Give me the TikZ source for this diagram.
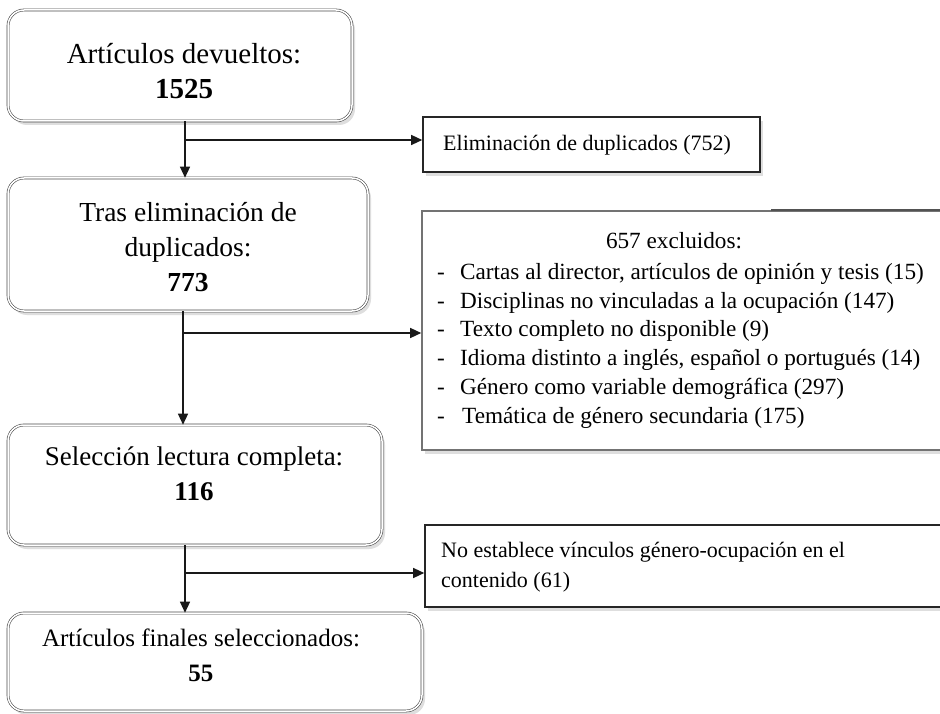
\documentclass[tikz,border=0pt]{standalone}
\usepackage{fontspec}
\setmainfont{Liberation Serif}
\usetikzlibrary{shadows,arrows.meta,calc}
\begin{document}
\begin{tikzpicture}[x=1pt,y=-1pt,
  mainbox/.style={draw=black!70, line width=0.6pt, double=white, double distance=1.5pt,
    rounded corners=16pt, fill=white,
    drop shadow={shadow xshift=3pt, shadow yshift=-4pt, fill=black!25, opacity=0.5}},
  sidebox/.style={draw=black!85, line width=1.6pt, fill=white,
    drop shadow={shadow xshift=3pt, shadow yshift=-4pt, fill=black!25, opacity=0.5}},
  maintext/.style={align=center, inner sep=0pt},
  sidetext/.style={align=left, inner sep=0pt, anchor=west, font=\fontsize{22}{29.5}\selectfont},
  listtext/.style={align=left, inner sep=0pt, font=\fontsize{23.2}{28.8}\selectfont},
  arr/.style={draw=black!90, line width=1.3pt, -{Triangle[length=11pt,width=10pt]}}]
\clip (0,0) rectangle (940,714);
\fill[white] (0,0) rectangle (940,714);

% main boxes
\node[mainbox, minimum width=344pt, minimum height=111pt] (b1) at (180,65.5) {};
\node[maintext, font=\fontsize{29}{35}\selectfont] (t1) at (184,71) {Artículos devueltos:\\\textbf{1525}};

\node[mainbox, minimum width=360pt, minimum height=133pt] (b2) at (188,244.5) {};
\node[maintext, font=\fontsize{27.5}{35}\selectfont] (t2) at (188,247) {Tras eliminación de\\duplicados:\\\textbf{773}};

\node[mainbox, minimum width=374pt, minimum height=120pt] (b3) at (195,485) {};
\node[maintext, font=\fontsize{27}{35}\selectfont] (t3) at (194,474) {Selección lectura completa:\\\textbf{116}};

\node[mainbox, minimum width=414pt, minimum height=98pt] (b4) at (215,662) {};
\node[maintext, font=\fontsize{25}{35}\selectfont] (t4) at (201,655) {Artículos finales seleccionados:\\\textbf{55}};

% side boxes
\node[sidebox, minimum width=337pt, minimum height=55pt] (r1) at (591.5,144.5) {};
\node[sidetext] (s1) at (443,145) {Eliminación de duplicados (752)};

\node[sidebox, draw=black!55, minimum width=526pt, minimum height=239pt] (r2) at (685,330.5) {};
\draw[draw=black!68, line width=1.6pt] ($(r2.north west)+(350,0)$) -- (r2.north east);
\node[listtext] (s2h) at (674,241) {657 excluidos:};
\node[listtext, anchor=north west] (s2) at (437,263) {%
\makebox[23pt][l]{-}Cartas al director, artículos de opinión y tesis (15)\\
\makebox[23pt][l]{-}Disciplinas no vinculadas a la ocupación (147)\\
\makebox[23pt][l]{-}Texto completo no disponible (9)\\
\makebox[23pt][l]{-}Idioma distinto a inglés, español o portugués (14)\\
\makebox[23pt][l]{-}Género como variable demográfica (297)\\
\makebox[25pt][l]{-}Temática de género secundaria (175)};

\node[sidebox, minimum width=523pt, minimum height=82pt] (r3) at (686.5,566) {};
\node[sidetext] (s3) at (441,567) {No establece vínculos género-ocupación en el\\contenido (61)};

% connectors
\coordinate (j1) at (185,140);
\coordinate (j2) at (183,333);
\coordinate (j3) at (185,573);
\draw[arr] (b1.south -| j1) -- (b2.north -| j1);
\draw[arr] (j1) -- (r1.west |- j1);
\draw[arr] (b2.south -| j2) -- (b3.north -| j2);
\draw[arr] (j2) -- (r2.west |- j2);
\draw[arr] (b3.south -| j3) -- (b4.north -| j3);
\draw[arr] (j3) -- (r3.west |- j3);
\end{tikzpicture}
\end{document}
